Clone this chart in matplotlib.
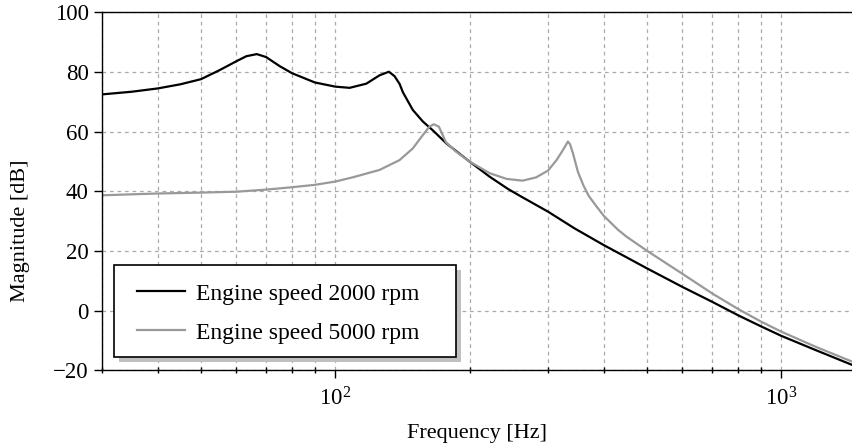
import matplotlib
matplotlib.use("Agg")
import matplotlib.pyplot as plt
from matplotlib.patches import Rectangle
from matplotlib.transforms import offset_copy

plt.rcParams["font.family"] = ["Liberation Serif", "DejaVu Serif"]
plt.rcParams["mathtext.fontset"] = "custom"
plt.rcParams["mathtext.rm"] = "Liberation Serif"
plt.rcParams["mathtext.it"] = "Liberation Serif"

# Engine speed 2000 rpm (frequency in Hz, magnitude in dB)
freq_2000 = [30, 35, 40, 45, 50, 55, 60, 63.2, 66.7, 70, 75, 80, 90, 100, 107.7,
             117.4, 125.7, 131.9, 135.8, 139.4, 141.8, 149.2, 157.2, 165.6, 177.4,
             200, 222, 244, 263, 300, 344, 400, 450, 500, 600, 700, 800, 900,
             1000, 1200, 1445]
mag_2000 = [72.5, 73.4, 74.5, 75.9, 77.6, 80.6, 83.6, 85.3, 86.0, 85.0, 82.0, 79.6,
            76.5, 75.1, 74.7, 76.1, 78.9, 80.1, 78.6, 76.0, 73.2, 67.3, 63.4, 60.4,
            56.1, 50.0, 44.9, 40.8, 38.0, 33.2, 27.6, 22.0, 17.9, 14.2, 8.0,
            3.0, -1.5, -5.2, -8.4, -13.3, -18.2]

# Engine speed 5000 rpm
freq_5000 = [30, 40, 50, 60, 70, 80, 90, 100, 110, 125.7, 139.4, 149.2, 157.2, 162.6,
             166.3, 170.7, 177, 186.6, 200, 222, 242, 263, 282, 300, 313.4, 324,
             332.3, 336, 341, 350, 360, 370, 385, 400, 430, 450, 500, 600, 700, 800,
             900, 1000, 1200, 1445]
mag_5000 = [38.7, 39.3, 39.6, 39.9, 40.6, 41.4, 42.2, 43.3, 44.8, 47.2, 50.5, 54.4,
            58.9, 61.7, 62.5, 61.7, 56.5, 53.3, 50.0, 46.1, 44.2, 43.6, 44.7, 47.0,
            50.5, 53.9, 56.7, 55.8, 52.8, 46.5, 42.0, 38.5, 35.0, 31.8, 27.2, 24.8,
            20.1, 12.4, 5.8, 0.6, -3.6, -7.0, -12.2, -17.1]

labels = ["Engine speed 2000 rpm", "Engine speed 5000 rpm"]

fig = plt.figure(figsize=(8.53, 4.48), dpi=100)
ax = fig.add_axes([0.1196, 0.173, 0.88, 0.7995])

ax.plot(freq_2000, mag_2000, color="black", lw=1.6, label=labels[0])
ax.plot(freq_5000, mag_5000, color="#999999", lw=1.6, label=labels[1])

ax.set_xscale("log")
ax.set_xlim(30, 1445)
ax.set_ylim(-20, 100)
ax.set_yticks([-20, 0, 20, 40, 60, 80, 100])
ax.set_yticklabels(["\u221220", "0", "20", "40", "60", "80", "100"])

ax.grid(True, which="both", axis="x", color="#aaaaaa", ls=(0, (3, 3)), lw=0.9)
ax.grid(True, which="major", axis="y", color="#aaaaaa", ls=(0, (3, 3)), lw=0.9)

ax.spines["right"].set_visible(False)
for s in ["left", "bottom", "top"]:
    ax.spines[s].set_linewidth(1.0)
ax.tick_params(axis="both", which="major", direction="out", length=6, width=1,
               labelsize=16.5, top=False, right=False)
ax.tick_params(axis="x", which="minor", direction="inout", length=5, width=1,
               top=False)
ax.tick_params(axis="x", which="major", pad=6)

ax.set_xlabel("Frequency [Hz]", fontsize=16, labelpad=10)
ax.set_ylabel("Magnitude [dB]", fontsize=16)
ax.yaxis.set_label_coords(-0.096, 0.389)

# legend box with drop shadow, drawn by hand
box = (0.0164, 0.0385, 0.455, 0.256)
shadow = Rectangle(box[:2], box[2], box[3],
                   transform=offset_copy(ax.transAxes, fig, x=5, y=-5, units="dots"),
                   facecolor="#c0c0c0", edgecolor="none", zorder=4, clip_on=False)
frame = Rectangle(box[:2], box[2], box[3], transform=ax.transAxes,
                  facecolor="white", edgecolor="black", lw=1.2, zorder=5, clip_on=False)
ax.add_patch(shadow)
ax.add_patch(frame)

leg = ax.legend(loc="upper left", bbox_to_anchor=(0.0462, 0.2443), borderaxespad=0,
                fontsize=17, frameon=False, handlelength=2.05, labelspacing=0.75,
                borderpad=0, handletextpad=0.45)
leg.set_zorder(6)

fig.savefig("out.png", dpi=100)
